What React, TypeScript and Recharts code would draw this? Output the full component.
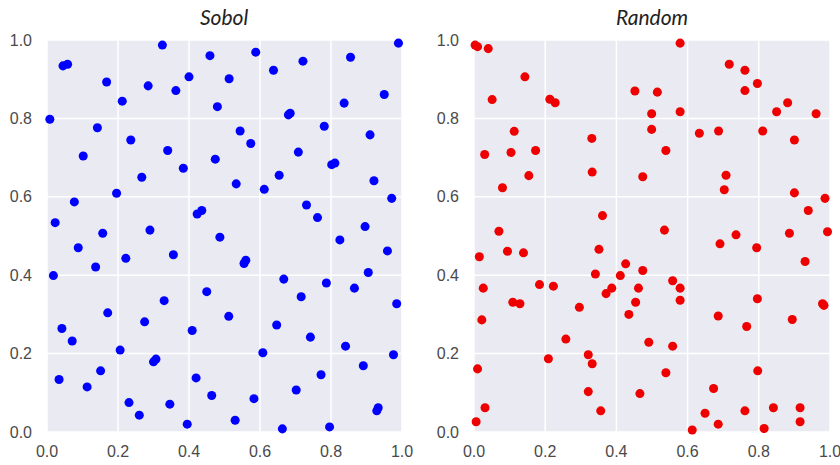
import { ScatterChart, Scatter, XAxis, YAxis, ZAxis, CartesianGrid } from "recharts";

const TICKS = [0, 0.2, 0.4, 0.6, 0.8, 1.0];

const SOBOL: [number, number][] = [
  [0.325, 0.987], [0.459, 0.96], [0.045, 0.934], [0.058, 0.938], [0.168, 0.893], [0.285, 0.883],
  [0.4, 0.906], [0.513, 0.901], [0.363, 0.871], [0.212, 0.844], [0.48, 0.83], [0.008, 0.798],
  [0.142, 0.776], [0.236, 0.745], [0.34, 0.718], [0.102, 0.704], [0.474, 0.696], [0.384, 0.673],
  [0.267, 0.65], [0.196, 0.609], [0.077, 0.587], [0.023, 0.534], [0.157, 0.507], [0.29, 0.515],
  [0.423, 0.556], [0.436, 0.565], [0.487, 0.497],
  [0.588, 0.969], [0.99, 0.992], [0.638, 0.923], [0.721, 0.946], [0.855, 0.956], [0.68, 0.809],
  [0.685, 0.813], [0.837, 0.839], [0.95, 0.861], [0.544, 0.768], [0.574, 0.736], [0.781, 0.78],
  [0.91, 0.758], [0.708, 0.714], [0.802, 0.682], [0.811, 0.686], [0.654, 0.655], [0.533, 0.633],
  [0.612, 0.619], [0.921, 0.641], [0.971, 0.596], [0.731, 0.579], [0.762, 0.547], [0.896, 0.524],
  [0.825, 0.49],
  [0.088, 0.47], [0.222, 0.443], [0.137, 0.421], [0.356, 0.452], [0.018, 0.399], [0.45, 0.358],
  [0.33, 0.335], [0.171, 0.304], [0.512, 0.295], [0.275, 0.281], [0.042, 0.264], [0.409, 0.259],
  [0.071, 0.232], [0.206, 0.209], [0.307, 0.186], [0.3, 0.179], [0.151, 0.156], [0.034, 0.134],
  [0.42, 0.138], [0.113, 0.115], [0.464, 0.093], [0.231, 0.075], [0.346, 0.071], [0.26, 0.043],
  [0.395, 0.02],
  [0.959, 0.462], [0.555, 0.43], [0.56, 0.438], [0.905, 0.407], [0.667, 0.39], [0.787, 0.38],
  [0.866, 0.367], [0.716, 0.345], [0.985, 0.327], [0.647, 0.273], [0.742, 0.242], [0.841, 0.219],
  [0.608, 0.202], [0.976, 0.197], [0.891, 0.169], [0.772, 0.146], [0.583, 0.085], [0.702, 0.107],
  [0.933, 0.062], [0.929, 0.054], [0.53, 0.03], [0.663, 0.008], [0.796, 0.013],
];

const RANDOM: [number, number][] = [
  [0.003, 0.987], [0.01, 0.983], [0.04, 0.978], [0.143, 0.906], [0.051, 0.848], [0.213, 0.849],
  [0.228, 0.84], [0.452, 0.87], [0.113, 0.767], [0.331, 0.749], [0.03, 0.708], [0.104, 0.713],
  [0.173, 0.718], [0.332, 0.663], [0.154, 0.654], [0.08, 0.623], [0.361, 0.552], [0.07, 0.512],
  [0.579, 0.992], [0.717, 0.938], [0.761, 0.923], [0.515, 0.867], [0.761, 0.871], [0.796, 0.889],
  [0.881, 0.84], [0.85, 0.817], [0.961, 0.812], [0.499, 0.812], [0.579, 0.817], [0.499, 0.772],
  [0.633, 0.762], [0.687, 0.768], [0.811, 0.768], [0.9, 0.745], [0.539, 0.718], [0.474, 0.651],
  [0.708, 0.655], [0.703, 0.618], [0.9, 0.61], [0.986, 0.596], [0.939, 0.565], [0.535, 0.515],
  [0.736, 0.503], [0.886, 0.507], [0.993, 0.511],
  [0.015, 0.447], [0.094, 0.461], [0.139, 0.457], [0.351, 0.466], [0.426, 0.429], [0.341, 0.403],
  [0.411, 0.399], [0.026, 0.367], [0.184, 0.376], [0.223, 0.372], [0.387, 0.367], [0.371, 0.353],
  [0.462, 0.367], [0.109, 0.331], [0.129, 0.327], [0.454, 0.331], [0.296, 0.318], [0.435, 0.3],
  [0.022, 0.286], [0.258, 0.237], [0.209, 0.187], [0.321, 0.197], [0.332, 0.174], [0.01, 0.161],
  [0.321, 0.103], [0.466, 0.098], [0.031, 0.062], [0.356, 0.054], [0.006, 0.026],
  [0.691, 0.48], [0.794, 0.47], [0.93, 0.435], [0.474, 0.412], [0.558, 0.386], [0.579, 0.367],
  [0.579, 0.336], [0.796, 0.34], [0.979, 0.327], [0.983, 0.323], [0.686, 0.296], [0.766, 0.269],
  [0.894, 0.287], [0.491, 0.229], [0.558, 0.219], [0.797, 0.156], [0.539, 0.151], [0.673, 0.111],
  [0.649, 0.048], [0.761, 0.054], [0.686, 0.02], [0.841, 0.062], [0.916, 0.062], [0.916, 0.026],
  [0.613, 0.005], [0.815, 0.009],
];

const tickStyle = { fill: "#4a4a4a", fontSize: 16, fontFamily: "'Liberation Sans', Arial, sans-serif" };
const fmt = (v: number) => v.toFixed(1);

function Panel({
  points,
  color,
  yWidth,
  right,
}: {
  points: [number, number][];
  color: string;
  yWidth: number;
  right: number;
}) {
  const data = points.map(([x, y]) => ({ x, y }));
  return (
    <ScatterChart width={420} height={465} margin={{ top: 40, right, bottom: 0, left: 0 }}>
      <CartesianGrid fill="#EAEAF2" stroke="#fff" strokeWidth={1.5} />
      <XAxis
        type="number"
        dataKey="x"
        domain={[0, 1]}
        ticks={TICKS}
        tickFormatter={fmt}
        axisLine={false}
        tickLine={false}
        tickSize={0}
        tickMargin={14}
        height={33}
        tick={tickStyle}
        interval={0}
      />
      <YAxis
        type="number"
        dataKey="y"
        domain={[0, 1]}
        ticks={TICKS}
        tickFormatter={fmt}
        axisLine={false}
        tickLine={false}
        tickSize={0}
        tickMargin={15}
        width={yWidth}
        tick={tickStyle}
        interval={0}
      />
      <ZAxis range={[64, 64]} />
      <Scatter data={data} fill={color} isAnimationActive={false} />
    </ScatterChart>
  );
}

const titleStyle: React.CSSProperties = {
  position: "absolute",
  top: 4,
  width: 200,
  textAlign: "center",
  fontFamily: "Lato, 'Open Sans', sans-serif",
  fontStyle: "italic",
  fontSize: 21,
  lineHeight: "26px",
  color: "#222",
};

export default function App() {
  return (
    <div style={{ position: "absolute", top: 0, left: 0, width: 840, height: 465, background: "#fff" }}>
      <div style={{ ...titleStyle, left: 224 - 100 }}>Sobol</div>
      <div style={{ ...titleStyle, left: 652 - 100 }}>Random</div>
      <div style={{ display: "flex" }}>
        <Panel points={SOBOL} color="#0000ff" yWidth={47} right={18} />
        <Panel points={RANDOM} color="#ee0000" yWidth={54} right={10} />
      </div>
    </div>
  );
}
